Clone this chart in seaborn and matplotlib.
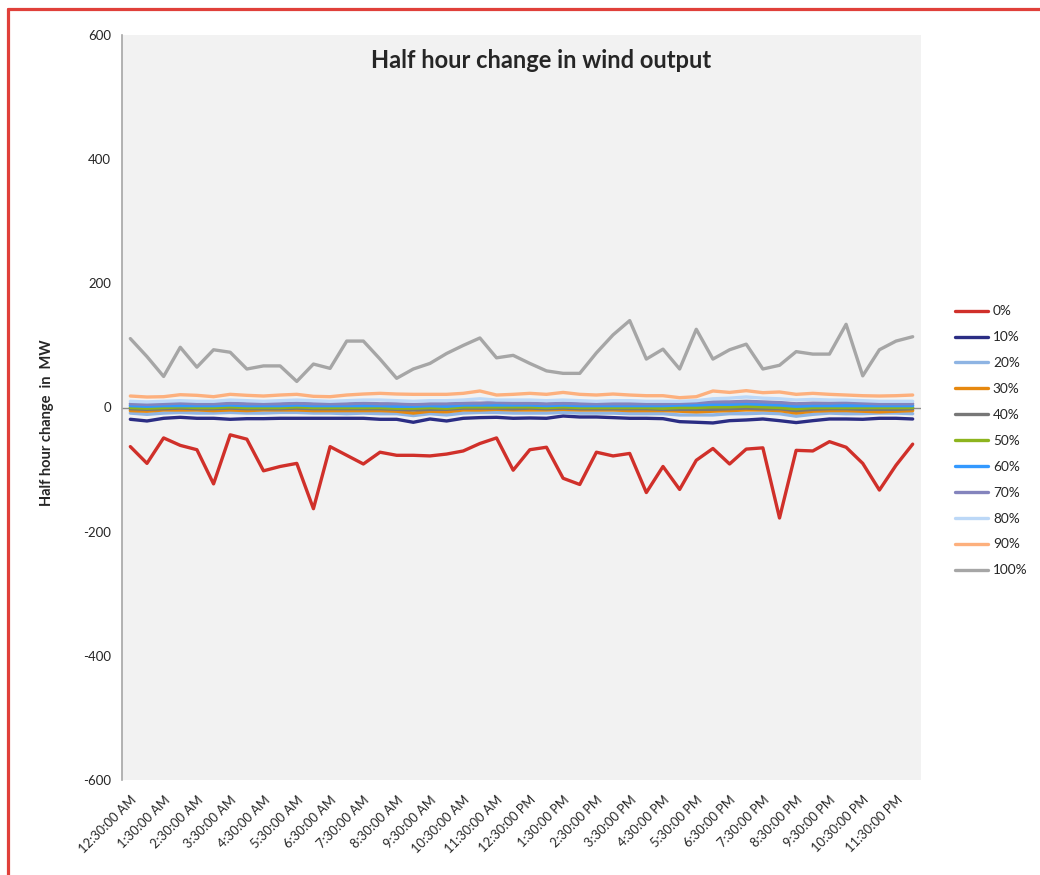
import matplotlib
matplotlib.use("Agg")
import matplotlib.pyplot as plt
from matplotlib.lines import Line2D
import numpy as np
import pandas as pd
import seaborn as sns

# Half-hour time slots (48 intervals through the day)
slots = []
for h in list(range(0, 24)):
    hr12 = 12 if h % 12 == 0 else h % 12
    ampm = "AM" if h < 12 else "PM"
    slots.append(f"{hr12}:30:00 {ampm}")
    nh = h + 1
    hr12n = 12 if nh % 12 == 0 else nh % 12
    ampmn = "AM" if (nh < 12 or nh == 24) else "PM"
    slots.append(f"{hr12n}:00:00 {ampmn}")

series_names = ["0%", "10%", "20%", "30%", "40%", "50%", "60%", "70%", "80%", "90%", "100%"]

p0 = [-63, -90, -49, -61, -68, -123, -44, -51, -102, -95, -90, -163,
      -63, -77, -91, -72, -77, -77, -78, -75, -70, -58, -49, -101,
      -68, -64, -114, -124, -72, -78, -74, -137, -95, -132, -85, -66,
      -91, -67, -65, -178, -69, -70, -55, -64, -90, -133, -93, -59]
p10 = [-19.0, -21.7, -17.4, -15.8, -17.4, -17.4, -19.0, -18.0, -18.0, -17.4, -17.4, -17.4,
       -17.4, -17.4, -17.4, -19.0, -19.0, -23.8, -18.5, -21.7, -17.4, -16.3, -15.8, -17.4,
       -16.9, -17.4, -13.7, -15.3, -15.3, -16.3, -17.4, -17.4, -18.0, -22.8, -23.8, -24.9,
       -21.2, -20.1, -18.5, -21.2, -24.3, -21.2, -18.5, -18.5, -19.0, -17.4, -17.4, -18.5]
p20 = [-9, -11, -9, -8, -9, -9, -8, -9, -9, -8, -8, -9,
       -9, -10, -9, -10, -10, -13, -10, -12, -9, -8, -8, -9,
       -9, -9, -8, -9, -9, -9, -10, -10, -10, -12, -12, -12,
       -10, -10, -9, -10, -14, -11, -9, -10, -10, -9, -9, -10]
p30 = [-5, -6, -4, -4, -4, -5, -4, -5, -4, -4, -4, -5,
       -5, -5, -5, -5, -6, -9, -6, -7, -4, -4, -3, -4,
       -4, -4, -3, -4, -4, -4, -5, -5, -5, -6, -7, -6,
       -5, -4, -4, -5, -9, -6, -5, -5, -6, -7, -6, -5]
p40 = [-2, -3, -2, -1, -2, -2, -1, -2, -2, -2, -1, -2,
       -2, -2, -2, -2, -3, -4, -3, -3, -1, -1, -1, -2,
       -1, -2, -1, -2, -2, -2, -2, -2, -3, -3, -3, -3,
       -2, -1, -2, -2, -5, -3, -2, -2, -3, -3, -3, -2]
p50 = [0, -1, 0, 1, 0, 0, 1, 0, 0, 0, 1, 0,
       0, 0, 0, 0, -1, -1, 0, -1, 1, 1, 1, 1,
       1, 0, 1, 0, 0, 0, 0, 0, -1, 0, 0, 1,
       1, 2, 1, 0, -2, 0, 0, 0, 0, 0, 0, 0]
p60 = [3, 2, 3, 3, 3, 3, 4, 3, 3, 3, 4, 3,
       3, 3, 3, 3, 2, 2, 3, 2, 4, 4, 4, 4,
       4, 3, 4, 3, 3, 3, 3, 3, 3, 4, 4, 5,
       5, 6, 5, 4, 2, 3, 3, 3, 3, 3, 3, 3]
p70 = [6, 5, 6, 7, 6, 6, 7, 6, 6, 6, 7, 6,
       6, 6, 7, 6, 6, 5, 6, 6, 7, 7, 8, 7,
       7, 6, 7, 6, 6, 6, 6, 6, 6, 7, 8, 9,
       9, 10, 9, 8, 6, 7, 7, 8, 7, 6, 6, 6]
p80 = [10, 9, 10, 11, 10, 10, 12, 11, 10, 11, 12, 11,
       10, 11, 12, 12, 11, 10, 11, 11, 12, 14, 12, 12,
       12, 11, 12, 11, 10, 11, 11, 10, 10, 10, 11, 14,
       15, 17, 15, 14, 12, 13, 12, 12, 11, 10, 10, 10]
p90 = [18.5, 16.9, 17.4, 20.6, 19.6, 17.4, 21.2, 19.6, 18.5, 20.1, 21.2, 18.0,
       17.4, 20.1, 21.7, 22.8, 21.7, 21.2, 21.2, 21.2, 22.8, 26.6, 20.1, 21.2,
       22.8, 21.2, 24.3, 21.2, 20.1, 21.7, 20.1, 19.0, 19.0, 15.8, 17.4, 26.6,
       24.3, 27.1, 23.9, 25.0, 21.2, 22.8, 21.2, 20.1, 19.0, 18.5, 19.0, 20.1]
p100 = [111, 82, 50, 97, 65, 93, 89, 62, 67, 67, 42, 70,
        63, 107, 107, 78, 47, 62, 71, 87, 100, 112, 80, 84,
        71, 59, 55, 55, 88, 117, 140, 78, 94, 62, 126, 78,
        93, 102, 62, 68, 90, 86, 86, 134, 51, 93, 107, 114]

colors = ["#d0302a", "#2b2d84", "#8eb4e3", "#e6880f", "#777777", "#8db41e",
          "#3399ff", "#8484bd", "#bcd8f7", "#fdb07d", "#a6a6a6"]

all_series = [p0, p10, p20, p30, p40, p50, p60, p70, p80, p90, p100]
frames = []
for name, vals in zip(series_names, all_series):
    frames.append(pd.DataFrame({"slot": np.arange(len(slots)), "value": vals, "level": name}))
df = pd.concat(frames, ignore_index=True)

sns.set_style("white")
plt.rcParams["font.family"] = ["Lato", "DejaVu Sans"]

fig = plt.figure(figsize=(10.4, 8.75), dpi=100)
ax = fig.add_axes([122 / 1040, 1 - 780 / 875, 799 / 1040, 745 / 875])
ax.set_facecolor("#f2f2f2")

sns.lineplot(data=df, x="slot", y="value", hue="level", hue_order=series_names,
             palette=colors, linewidth=2.4, sort=False, legend=False, ax=ax)

ax.axhline(0, color="#8c8c8c", linewidth=1.0, zorder=0.5)

ax.set_xlim(-0.5, len(slots) - 0.5)
ax.set_ylim(-600, 600)
ax.set_yticks([-600, -400, -200, 0, 200, 400, 600])
ax.set_yticklabels(["-600", "-400", "-200", "0", "200", "400", "600"])
tick_pos = np.arange(0, len(slots), 2)
ax.set_xticks(tick_pos)
ax.set_xticklabels([slots[i] for i in tick_pos], rotation=45, ha="right",
                   va="top", rotation_mode="anchor")
ax.tick_params(axis="x", length=0, pad=10, labelsize=9.3)
ax.tick_params(axis="y", length=5, width=1, color="#a6a6a6", direction="out",
               pad=3, labelsize=9.5)
ax.set_xlabel("")
ax.set_ylabel("")

for side in ["top", "right", "bottom"]:
    ax.spines[side].set_visible(False)
ax.spines["left"].set_color("#a6a6a6")
ax.spines["left"].set_linewidth(1.2)

fig.text(541 / 1040, 1 - 61 / 875, "Half hour change in wind output",
         ha="center", va="center", fontsize=17, fontweight="bold")
fig.text(47 / 1040, 1 - 423 / 875, "Half hour change  in  MW", rotation=90,
         ha="center", va="center", fontsize=10.5, fontweight="bold")

handles = ax.get_lines()[:len(series_names)]
fig.legend(handles, series_names, loc="upper left",
           bbox_to_anchor=(950 / 1040, 1 - 300 / 875), frameon=False,
           fontsize=9.8, handlelength=2.4, handletextpad=0.35,
           labelspacing=1.02, borderaxespad=0)

# red frame along the left and top edges
fig.add_artist(Line2D([7.5 / 1040, 7.5 / 1040], [0, 1 - 8.5 / 875],
                      transform=fig.transFigure, color="#e0403a", linewidth=2.3))
fig.add_artist(Line2D([7.5 / 1040, 1], [1 - 8.5 / 875, 1 - 8.5 / 875],
                      transform=fig.transFigure, color="#e0403a", linewidth=2.3))

fig.savefig("out.png", dpi=100, facecolor="white")
